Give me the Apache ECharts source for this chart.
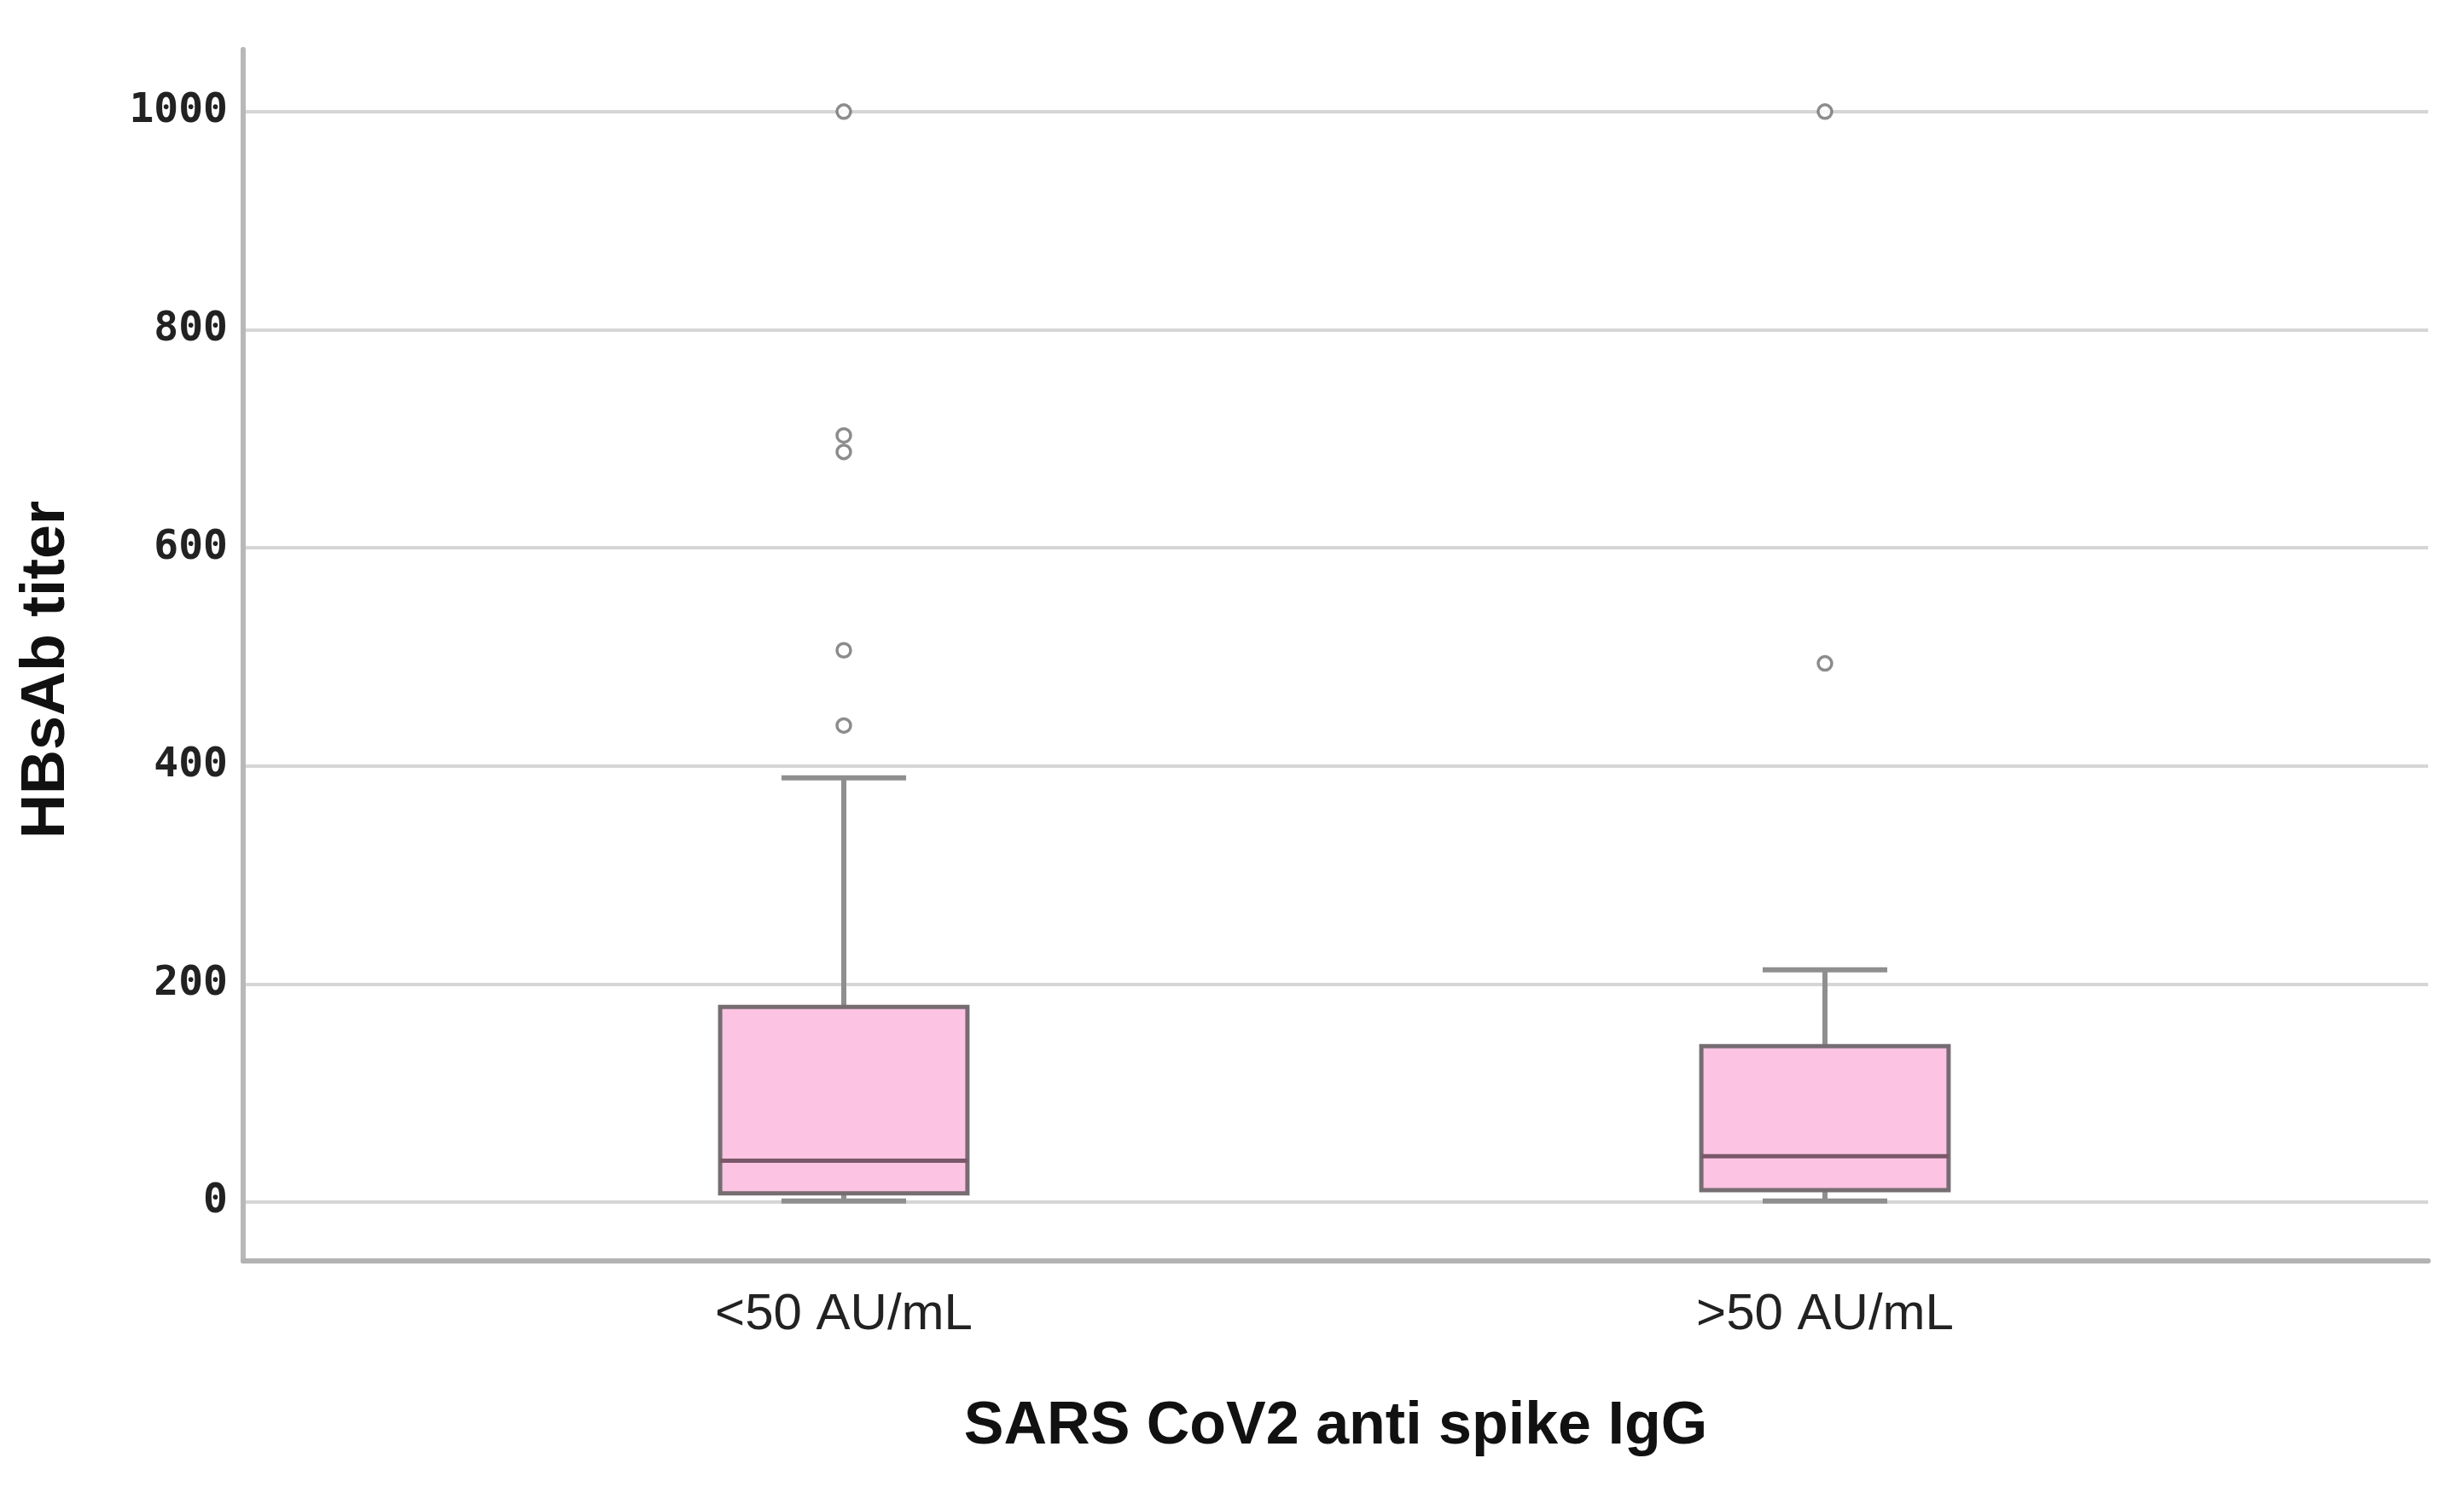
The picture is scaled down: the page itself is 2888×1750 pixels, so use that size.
<!DOCTYPE html>
<html>
<head>
<meta charset="utf-8">
<script src="https://cdn.jsdelivr.net/npm/echarts@6/dist/echarts.min.js"></script>
<style>
html,body{margin:0;padding:0;background:#fff;}
#chart{width:2888px;height:1750px;}
</style>
</head>
<body>
<div id="chart"></div>
<script>
// ---- data ----
var categories = ['<50 AU/mL', '>50 AU/mL'];
var whiskerLow  = [1, 1];
var quartile1   = [8, 11];
var medians     = [38, 42];
var quartile3   = [179, 143];
var whiskerHigh = [389, 213];
var outliersLow  = [1000, 703, 688, 506, 437];   // group '<50 AU/mL'
var outliersHigh = [1000, 494];                  // group '>50 AU/mL'
var yTickValues = [0, 200, 400, 600, 800, 1000];

// ---- build options ----
var boxData = categories.map(function (c, i) {
  return [i, whiskerLow[i], quartile1[i], medians[i], quartile3[i], whiskerHigh[i]];
});
var outlierData = outliersLow.map(function (v) { return [0, v]; })
  .concat(outliersHigh.map(function (v) { return [1, v]; }));

var Y_MIN = -54, Y_MAX = 1057;
var GRID_TOP = 58, GRID_BOTTOM = 272;

var chart = echarts.init(document.getElementById('chart'), null, {renderer: 'canvas'});
chart.setOption({
  backgroundColor: '#ffffff',
  animation: false,
  grid: [
    {left: 285, right: 42, top: GRID_TOP, bottom: GRID_BOTTOM, containLabel: false},
    {left: 414, right: 174, top: GRID_TOP, bottom: GRID_BOTTOM, containLabel: false}
  ],
  xAxis: [
    {
      gridIndex: 0, type: 'value', min: 0, max: 1,
      axisLine: {show: true, onZero: false, lineStyle: {color: '#b3b3b3', width: 6}},
      axisTick: {show: false}, axisLabel: {show: false}, splitLine: {show: false},
      name: 'SARS CoV2 anti spike IgG', nameLocation: 'middle', nameGap: 160,
      nameTextStyle: {fontFamily: 'Liberation Sans, Arial, sans-serif', fontWeight: 'bold', fontSize: 70, color: '#111'}
    },
    {
      gridIndex: 1, type: 'category', data: categories, boundaryGap: true,
      axisLine: {show: false}, axisTick: {show: false}, splitLine: {show: false},
      axisLabel: {show: true, margin: 33, fontFamily: 'Liberation Sans, Arial, sans-serif', fontSize: 60, color: '#222'}
    }
  ],
  yAxis: [
    {
      gridIndex: 0, type: 'value', min: Y_MIN, max: Y_MAX, splitNumber: 5,
      axisLine: {show: true, lineStyle: {color: '#b8b8b8', width: 6}},
      axisTick: {show: false},
      axisLabel: {
        show: true, margin: 18, showMinLabel: false, showMaxLabel: false,
        fontFamily: 'DejaVu Sans Mono, monospace', fontWeight: 'bold', fontSize: 48, color: '#222',
        formatter: function (v) { return yTickValues.indexOf(v) >= 0 ? String(v) : ''; }
      },
      splitLine: {show: true, showMinLine: false, showMaxLine: false, lineStyle: {color: '#d6d6d6', width: 4}},
      name: 'HBsAb titer', nameLocation: 'middle', nameGap: 194, nameRotate: 90,
      nameTextStyle: {fontFamily: 'Liberation Sans, Arial, sans-serif', fontWeight: 'bold', fontSize: 72, color: '#111', padding: [0, 34, 0, 0]}
    },
    {
      gridIndex: 1, type: 'value', min: Y_MIN, max: Y_MAX, show: false,
      splitLine: {show: false}
    }
  ],
  series: [
    {
      type: 'custom', xAxisIndex: 1, yAxisIndex: 1, z: 3,
      data: boxData,
      encode: {x: 0, y: [1, 2, 3, 4, 5]},
      renderItem: function (params, api) {
        var x = api.value(0);
        var lo = api.coord([x, api.value(1)]);
        var q1 = api.coord([x, api.value(2)]);
        var md = api.coord([x, api.value(3)]);
        var q3 = api.coord([x, api.value(4)]);
        var hi = api.coord([x, api.value(5)]);
        var band = api.size([1, 0])[0];
        var bw = band * 0.252, cw = band * 0.127;
        var cx = md[0];
        var wStyle = {stroke: '#8f8f8f', lineWidth: 6};
        return {
          type: 'group',
          children: [
            {type: 'line', shape: {x1: cx, y1: hi[1], x2: cx, y2: q3[1]}, style: wStyle},
            {type: 'line', shape: {x1: cx, y1: q1[1], x2: cx, y2: lo[1]}, style: wStyle},
            {type: 'line', shape: {x1: cx - cw / 2, y1: hi[1], x2: cx + cw / 2, y2: hi[1]}, style: wStyle},
            {type: 'line', shape: {x1: cx - cw / 2, y1: lo[1], x2: cx + cw / 2, y2: lo[1]}, style: wStyle},
            {type: 'rect', shape: {x: cx - bw / 2, y: q3[1], width: bw, height: q1[1] - q3[1]},
              style: {fill: '#fdc3e2', stroke: '#766d72', lineWidth: 5}},
            {type: 'line', shape: {x1: cx - bw / 2, y1: md[1], x2: cx + bw / 2, y2: md[1]},
              style: {stroke: '#7a5869', lineWidth: 5}}
          ]
        };
      }
    },
    {
      type: 'scatter', xAxisIndex: 1, yAxisIndex: 1, z: 4,
      data: outlierData,
      symbol: 'circle', symbolSize: 16,
      itemStyle: {color: '#ffffff', borderColor: '#6f6f6f', borderWidth: 3.5}
    }
  ]
});
</script>
</body>
</html>
